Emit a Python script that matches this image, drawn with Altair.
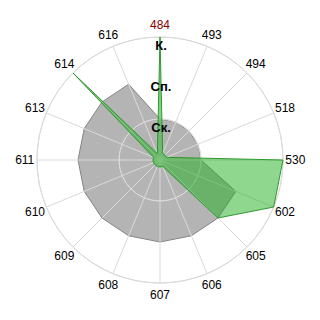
import altair as alt
import pandas as pd

categories = ["484", "493", "494", "518", "530", "602", "605", "606",
              "607", "608", "609", "610", "611", "613", "614", "616"]
gray_values = [1, 1, 1, 1, 1, 2, 2, 2, 2, 2, 2, 2, 2, 2, 2, 2]
green_values = [3, 0.17, 0.17, 0.17, 3, 3, 2, 0.17,
                0.17, 0.17, 0.17, 0.17, 0.17, 0.17, 3, 0.17]
ring_values = [1, 2, 3]
ring_labels = ["Ск.", "Сп.", "К."]

n = len(categories)
cat_df = pd.DataFrame({"cat": categories, "idx": list(range(n))})
gray_df = pd.DataFrame({"cat": categories, "idx": list(range(n)), "value": gray_values})
green_df = pd.DataFrame({"cat": categories, "idx": list(range(n)), "value": green_values})
ring_df = pd.DataFrame({"ring": ring_values, "label": ring_labels})

xs = alt.Scale(domain=[-3, 3], range=[37, 283])
ys = alt.Scale(domain=[-3, 3], range=[283, 37])
ang = f"2*PI*datum.idx/{n}"
FONT = "Liberation Sans"


def poly(df, fill, opacity, stroke):
    return alt.Chart(df).mark_line(
        interpolate="linear-closed", fill=fill, fillOpacity=opacity,
        stroke=stroke, strokeWidth=1
    ).transform_calculate(
        px=f"datum.value*sin({ang})", py=f"datum.value*cos({ang})"
    ).encode(
        x=alt.X("px:Q", scale=xs, axis=None),
        y=alt.Y("py:Q", scale=ys, axis=None),
        order=alt.Order("idx:Q"),
    )


gray = poly(gray_df, "#b4b4b4", 1, "#858585")
green = poly(green_df, "#1fad1f", 0.5, "#2f9a2f")

spokes = alt.Chart(cat_df).mark_rule(stroke="#dadada", strokeWidth=1).transform_calculate(
    zero="0", px=f"3*sin({ang})", py=f"3*cos({ang})"
).encode(
    x=alt.X("zero:Q", scale=xs, axis=None),
    y=alt.Y("zero:Q", scale=ys, axis=None),
    x2="px:Q", y2="py:Q",
)

rings = alt.Chart(ring_df).mark_arc(
    theta=0, theta2=6.2832, filled=False, stroke="#dadada", strokeWidth=1
).encode(
    radius=alt.Radius("ring:Q", scale=alt.Scale(type="linear", domain=[0, 3], range=[0, 123]))
)

cat_labels = alt.Chart(cat_df).mark_text(
    font=FONT, fontSize=12, align="center", baseline="middle"
).transform_calculate(
    px=f"3.3*sin({ang})", py=f"3.3*cos({ang})"
).encode(
    x=alt.X("px:Q", scale=xs, axis=None),
    y=alt.Y("py:Q", scale=ys, axis=None),
    text="cat:N",
    color=alt.condition(alt.datum.cat == "484", alt.value("#8b0000"), alt.value("#000000")),
)

ring_text = alt.Chart(ring_df).mark_text(
    font=FONT, fontSize=13, fontWeight="bold", align="center", baseline="middle",
    dy=9, dx=1, color="#000000"
).transform_calculate(zero="0").encode(
    x=alt.X("zero:Q", scale=xs, axis=None),
    y=alt.Y("ring:Q", scale=ys, axis=None),
    text="label:N",
)

chart = alt.layer(gray, rings, spokes, green, cat_labels, ring_text).properties(
    width=320, height=320, padding=0, autosize="none"
).configure_view(stroke=None)

chart.save("out.html", embed_options={"renderer": "svg", "actions": False})
